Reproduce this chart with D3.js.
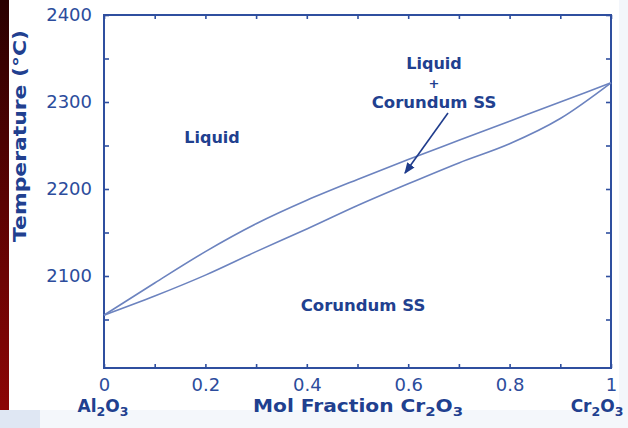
<!DOCTYPE html>
<html>
<head>
<meta charset="utf-8">
<script src="https://cdn.jsdelivr.net/npm/d3@7"></script>
<style>
  body { margin: 0; background: #fff; }
  svg { display: block; }
</style>
</head>
<body>
<svg id="svg"></svg>
<script>
// mol fraction Cr2O3 (x) with liquidus / solidus temperatures
const molFraction = [0, 0.1, 0.2, 0.3, 0.4, 0.5, 0.6, 0.7, 0.8, 0.9, 1.0]
const liquidus    = [2055, 2092, 2128, 2160, 2187, 2211, 2234, 2256, 2278, 2300, 2322]
const solidus     = [2055, 2077, 2101, 2128, 2154, 2181, 2206, 2230, 2252, 2281, 2322]

const yMajor = [2100, 2200, 2300, 2400]
const yMinor = [2050, 2150, 2250, 2350]
const xTicks = [0, 0.1, 0.2, 0.3, 0.4, 0.5, 0.6, 0.7, 0.8, 0.9, 1.0]
const xLabels = [0, 0.2, 0.4, 0.6, 0.8, 1.0]

const W = 628, H = 428
const axisColor = '#2f4f9f'
const textColor = '#21408f'
const curveColor = '#6c83bf'
const font = 'DejaVu Sans, Arial, sans-serif'

const svg = d3.select('#svg').attr('width', W).attr('height', H)

// background bits: dark red strip on the left, pale blue bottom band
const defs = svg.append('defs')
const grad = defs.append('linearGradient').attr('id', 'strip')
    .attr('x1', 0).attr('y1', 0).attr('x2', 0).attr('y2', 1)
grad.append('stop').attr('offset', '0%').attr('stop-color', '#2a0000')
grad.append('stop').attr('offset', '100%').attr('stop-color', '#8c0606')

svg.append('rect').attr('x', 0).attr('y', 410).attr('width', W).attr('height', 18).attr('fill', '#f4f7fb')
svg.append('rect').attr('x', 0).attr('y', 0).attr('width', 9).attr('height', 410).attr('fill', 'url(#strip)')
svg.append('rect').attr('x', 0).attr('y', 410).attr('width', 40).attr('height', 18).attr('fill', '#dfe7f3')
svg.append('rect').attr('x', 619).attr('y', 0).attr('width', 9).attr('height', 410).attr('fill', '#f3f6fb')

defs.append('marker').attr('id', 'arrow')
    .attr('viewBox', '0 0 10 10').attr('refX', 9).attr('refY', 5)
    .attr('markerWidth', 7).attr('markerHeight', 7).attr('orient', 'auto')
    .append('path').attr('d', 'M0,1 L10,5 L0,9 Z').attr('fill', '#1f3c8c')

const x = d3.scaleLinear().domain([0, 1]).range([104, 611])
const y = d3.scaleLinear().domain([2000, 2400]).range([363, 15])
const frameBottom = 368

// frame
svg.append('rect')
    .attr('x', x(0)).attr('y', y(2400))
    .attr('width', x(1) - x(0)).attr('height', frameBottom - y(2400))
    .attr('fill', 'none').attr('stroke', axisColor).attr('stroke-width', 2)

let styleAxis = (g) => {
    g.select('.domain').remove()
    g.selectAll('line').attr('stroke', axisColor).attr('stroke-width', 1.6)
    g.selectAll('text').attr('fill', '#2c4c9c').attr('font-family', font).attr('font-size', 18)
}

// left axis: labelled majors + minors, ticks pointing inward
svg.append('g').attr('transform', `translate(${x(0)},0)`)
    .call(d3.axisLeft(y).tickValues(yMajor).tickSize(-5).tickPadding(12).tickFormat(d3.format('d')))
    .call(styleAxis)
svg.append('g').attr('transform', `translate(${x(0)},0)`)
    .call(d3.axisLeft(y).tickValues(yMinor).tickSize(-5).tickFormat(''))
    .call(styleAxis)

// right axis
svg.append('g').attr('transform', `translate(${x(1)},0)`)
    .call(d3.axisRight(y).tickValues(yMajor.concat(yMinor)).tickSize(-5).tickFormat(''))
    .call(styleAxis)

// bottom axis
svg.append('g').attr('transform', `translate(0,${frameBottom})`)
    .call(d3.axisBottom(x).tickValues(xTicks).tickSize(-4).tickPadding(10)
        .tickFormat(d => xLabels.some(v => Math.abs(v - d) < 1e-9) ? d3.format('~g')(d) : ''))
    .call(styleAxis)

// top axis
svg.append('g').attr('transform', `translate(0,${y(2400)})`)
    .call(d3.axisTop(x).tickValues(xTicks).tickSize(-4).tickFormat(''))
    .call(styleAxis)

// liquidus and solidus curves
const line = d3.line().x(d => x(d[0])).y(d => y(d[1])).curve(d3.curveMonotoneX)

svg.append('path')
    .datum(d3.zip(molFraction, liquidus))
    .attr('d', line)
    .attr('fill', 'none').attr('stroke', curveColor).attr('stroke-width', 1.6)

svg.append('path')
    .datum(d3.zip(molFraction, solidus))
    .attr('d', line)
    .attr('fill', 'none').attr('stroke', curveColor).attr('stroke-width', 1.6)

// region labels
let label = (txt, px, py, size) => {
    return svg.append('text')
        .text(txt)
        .attr('font-family', font).attr('font-weight', 'bold')
        .attr('font-size', size).attr('fill', textColor)
        .attr('text-anchor', 'middle')
        .attr('x', px).attr('y', py)
}

label('Liquid', 212, 143, 16)
label('Liquid', 434, 69, 16)
label('+', 434, 88, 13)
label('Corundum SS', 434, 108, 16.5)
label('Corundum SS', 363, 311, 16.5)

svg.append('line')
    .attr('x1', 448).attr('y1', 113).attr('x2', 405).attr('y2', 173)
    .attr('stroke', '#1f3c8c').attr('stroke-width', 1.6)
    .attr('marker-end', 'url(#arrow)')

// axis titles with subscripts
let formula = (parts, px, py, anchor, size) => {
    let t = svg.append('text')
        .attr('font-family', font).attr('font-weight', 'bold')
        .attr('font-size', size).attr('fill', textColor)
        .attr('text-anchor', anchor)
        .attr('x', px).attr('y', py)
    parts.forEach(p => {
        let s = t.append('tspan').text(p.t)
        if (p.sub) s.attr('font-size', 12.5).attr('dy', 4)
        else if (p.back) s.attr('dy', -4)
    })
    return t
}

formula([{ t: 'Al' }, { t: '2', sub: true }, { t: 'O', back: true }, { t: '3', sub: true }], 103, 412, 'middle', 17)
formula([{ t: 'Cr' }, { t: '2', sub: true }, { t: 'O', back: true }, { t: '3', sub: true }], 597, 412, 'middle', 17)
formula([{ t: 'Mol Fraction Cr' }, { t: '2', sub: true }, { t: 'O', back: true }, { t: '3', sub: true }], 358, 412, 'middle', 17)
    .attr('textLength', 210).attr('lengthAdjust', 'spacingAndGlyphs')

svg.append('text')
    .text('Temperature (°C)')
    .attr('font-family', font).attr('font-weight', 'bold')
    .attr('font-size', 17).attr('fill', textColor)
    .attr('text-anchor', 'middle')
    .attr('textLength', 212).attr('lengthAdjust', 'spacingAndGlyphs')
    .attr('transform', 'translate(26,136) rotate(-90)')
</script>
</body>
</html>
